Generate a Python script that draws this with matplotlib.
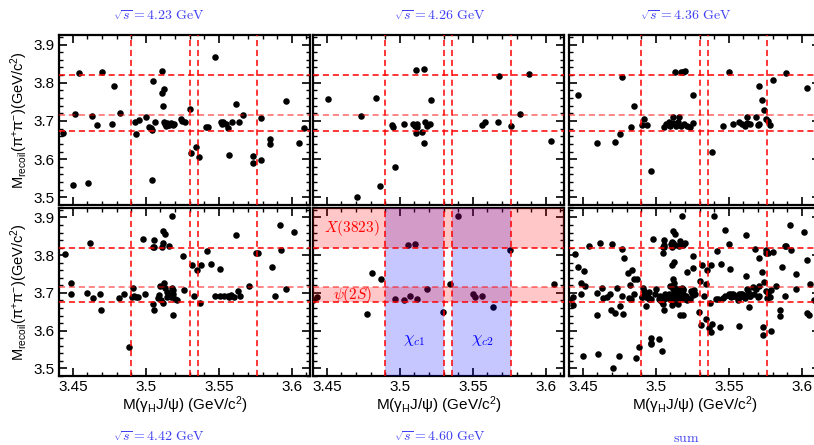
import matplotlib
matplotlib.use('Agg')
import matplotlib.pyplot as plt
from matplotlib.ticker import MultipleLocator

plt.rcParams['font.family'] = ['Liberation Sans', 'DejaVu Sans']
plt.rcParams['mathtext.fontset'] = 'custom'
plt.rcParams['mathtext.rm'] = 'Liberation Sans'
plt.rcParams['mathtext.it'] = 'Liberation Sans:italic'
plt.rcParams['mathtext.bf'] = 'Liberation Sans:bold'

# M(gamma_H J/psi) and M_recoil(pi+ pi-) for each energy point (GeV)
x_423 = [3.4429, 3.4500, 3.4514, 3.4539, 3.4605, 3.4632, 3.4664, 3.4699, 3.4767, 3.4779,
         3.4826, 3.4927, 3.4934, 3.4952, 3.5002, 3.5021, 3.5034, 3.5039, 3.5041, 3.5048,
         3.5066, 3.5112, 3.5114, 3.5123, 3.5119, 3.5126, 3.5137, 3.5148, 3.5160, 3.5171,
         3.5185, 3.5196, 3.5132, 3.5155, 3.5240, 3.5251, 3.5267, 3.5301, 3.5310, 3.5342,
         3.5361, 3.5409, 3.5427, 3.5477, 3.5514, 3.5521, 3.5532, 3.5546, 3.5564, 3.5571,
         3.5589, 3.5621, 3.5637, 3.5667, 3.5735, 3.5735, 3.5792, 3.5788, 3.5852, 3.5852,
         3.5959, 3.6048, 3.6084]
y_423 = [3.669, 3.533, 3.718, 3.825, 3.538, 3.714, 3.689, 3.829, 3.693, 3.792,
         3.721, 3.698, 3.665, 3.703, 3.710, 3.684, 3.681, 3.676, 3.545, 3.805,
         3.696, 3.832, 3.773, 3.783, 3.738, 3.696, 3.687, 3.694, 3.689, 3.694,
         3.689, 3.692, 3.692, 3.690, 3.705, 3.701, 3.696, 3.731, 3.616, 3.632,
         3.606, 3.685, 3.684, 3.868, 3.696, 3.692, 3.696, 3.692, 3.681, 3.612,
         3.696, 3.745, 3.696, 3.716, 3.609, 3.589, 3.707, 3.598, 3.654, 3.639,
         3.751, 3.641, 3.682]

x_426 = [3.4507, 3.4705, 3.4735, 3.4838, 3.4865, 3.4943, 3.4950, 3.4966, 3.5030, 3.5091,
         3.5105, 3.5116, 3.5121, 3.5114, 3.5114, 3.5167, 3.5155, 3.5169, 3.5173, 3.5187,
         3.5205, 3.5217, 3.5564, 3.5584, 3.5676, 3.5683, 3.5765, 3.5824, 3.5884, 3.6037]
y_426 = [3.757, 3.501, 3.713, 3.760, 3.529, 3.689, 3.683, 3.580, 3.691, 3.692,
         3.687, 3.692, 3.685, 3.668, 3.834, 3.837, 3.670, 3.641, 3.698, 3.688,
         3.692, 3.755, 3.689, 3.696, 3.698, 3.817, 3.687, 3.718, 3.824, 3.647]

x_436 = [3.4470, 3.4600, 3.4717, 3.4753, 3.4767, 3.4833, 3.4849, 3.4902, 3.4916, 3.4941,
         3.4970, 3.5057, 3.5071, 3.5089, 3.5100, 3.5116, 3.5121, 3.5139, 3.5151, 3.5162,
         3.5174, 3.5196, 3.5215, 3.5237, 3.5253, 3.5130, 3.5174, 3.5185, 3.5201, 3.5253,
         3.5384, 3.5457, 3.5500, 3.5527, 3.5573, 3.5591, 3.5614, 3.5623, 3.5626, 3.5642,
         3.5687, 3.5699, 3.5710, 3.5744, 3.5756, 3.5772, 3.5779, 3.5705, 3.5728, 3.5801,
         3.5893, 3.6037, 3.6103]
y_436 = [3.768, 3.641, 3.646, 3.665, 3.816, 3.685, 3.738, 3.689, 3.705, 3.689,
         3.568, 3.683, 3.692, 3.696, 3.687, 3.710, 3.694, 3.687, 3.698, 3.710,
         3.687, 3.692, 3.687, 3.685, 3.694, 3.828, 3.827, 3.828, 3.831, 3.767,
         3.618, 3.686, 3.829, 3.692, 3.696, 3.692, 3.687, 3.710, 3.694, 3.692,
         3.710, 3.689, 3.692, 3.729, 3.704, 3.700, 3.689, 3.792, 3.755, 3.808,
         3.825, 3.786, 3.824]

x_442 = [3.4447, 3.4484, 3.4484, 3.4596, 3.4619, 3.4635, 3.4685, 3.4696, 3.4813, 3.4847,
         3.4888, 3.4902, 3.4913, 3.4920, 3.4932, 3.4943, 3.4984, 3.4995, 3.5046, 3.5053,
         3.5059, 3.5048, 3.5057, 3.5080, 3.5091, 3.5103, 3.5098, 3.5126, 3.5132, 3.5121,
         3.5144, 3.5148, 3.5160, 3.5171, 3.5176, 3.5183, 3.5189, 3.5199, 3.5212, 3.5110,
         3.5116, 3.5160, 3.5121, 3.5128, 3.5176, 3.5183, 3.5263, 3.5258, 3.5315, 3.5331,
         3.5354, 3.5377, 3.5368, 3.5418, 3.5445, 3.5477, 3.5505, 3.5509, 3.5537, 3.5560,
         3.5571, 3.5582, 3.5605, 3.5635, 3.5646, 3.5619, 3.5708, 3.5753, 3.5767, 3.5868,
         3.5884, 3.5920, 3.5925, 3.5959, 3.6016]
y_442 = [3.804, 3.726, 3.696, 3.700, 3.832, 3.687, 3.696, 3.656, 3.687, 3.696,
         3.557, 3.689, 3.714, 3.691, 3.689, 3.688, 3.844, 3.696, 3.670, 3.841,
         3.823, 3.822, 3.656, 3.687, 3.694, 3.682, 3.718, 3.727, 3.713, 3.674,
         3.703, 3.689, 3.698, 3.689, 3.714, 3.709, 3.698, 3.685, 3.682, 3.822,
         3.832, 3.824, 3.863, 3.857, 3.905, 3.641, 3.707, 3.798, 3.773, 3.691,
         3.762, 3.775, 3.674, 3.810, 3.776, 3.691, 3.763, 3.691, 3.691, 3.691,
         3.689, 3.695, 3.689, 3.705, 3.691, 3.853, 3.719, 3.806, 3.807, 3.770,
         3.692, 3.879, 3.815, 3.711, 3.861]

x_460 = [3.4405, 3.4429, 3.4776, 3.4810, 3.4874, 3.4970, 3.5030, 3.5071, 3.5121, 3.5183,
         3.5057, 3.5103, 3.5299, 3.5342, 3.5400, 3.5502, 3.5514, 3.5564, 3.5639, 3.5753,
         3.6059]
y_460 = [3.682, 3.688, 3.645, 3.753, 3.736, 3.683, 3.681, 3.691, 3.684, 3.711,
         3.826, 3.830, 3.649, 3.723, 3.904, 3.698, 3.689, 3.692, 3.664, 3.813,
         3.724]

# events seen only in the summed panel
x_other = [3.4968, 3.5025, 3.4751, 3.5379, 3.5443]
y_other = [3.564, 3.577, 3.533, 3.597, 3.610]

x_sum = x_423 + x_426 + x_436 + x_442 + x_460 + x_other
y_sum = y_423 + y_426 + y_436 + y_442 + y_460 + y_other

panel_x = [x_423, x_426, x_436, x_442, x_460, x_sum]
panel_y = [y_423, y_426, y_436, y_442, y_460, y_sum]
titles = [r'$\sqrt{s} = 4.23\ \mathrm{GeV}$', r'$\sqrt{s} = 4.26\ \mathrm{GeV}$',
          r'$\sqrt{s} = 4.36\ \mathrm{GeV}$', r'$\sqrt{s} = 4.42\ \mathrm{GeV}$',
          r'$\sqrt{s} = 4.60\ \mathrm{GeV}$', r'$\mathrm{sum}$']

# signal windows
cut_y = [3.82, 3.715, 3.675]
cut_x = [3.49, 3.53, 3.536, 3.576]
chic1_win = (3.49, 3.53)
chic2_win = (3.536, 3.576)
psi2s_win = (3.675, 3.715)
x3823_win = (3.82, 3.925)

xticks = [3.45, 3.5, 3.55, 3.6]
xtick_labels = ['3.45', '3.5', '3.55', '3.6']
yticks = [3.5, 3.6, 3.7, 3.8, 3.9]
ytick_labels = ['3.5', '3.6', '3.7', '3.8', '3.9']

W, H = 814, 445
fig = plt.figure(figsize=(W / 100, H / 100), dpi=100)

col_left = [59, 313, 569]
row_top = [35, 208]
row_h = [170, 168]
pw = 251
title_pos = [(159, 16), (440, 16), (686, 16), (159, 437), (440, 437), (686, 438)]

tcol = (0.25, 0.25, 0.95)
myfontsize = 11

for i in range(6):
    r, c = divmod(i, 3)
    ax = fig.add_axes([col_left[c] / W, 1 - (row_top[r] + row_h[r]) / H, pw / W, row_h[r] / H])
    ax.plot(panel_x[i], panel_y[i], 'o', color='black', ms=4.7, mec='none', zorder=3)

    if i == 4:
        ax.axvspan(*chic1_win, color='blue', alpha=0.22, lw=0, zorder=4)
        ax.axvspan(*chic2_win, color='blue', alpha=0.22, lw=0, zorder=4)
        ax.axhspan(*psi2s_win, color='red', alpha=0.22, lw=0, zorder=4)
        ax.axhspan(*x3823_win, color='red', alpha=0.22, lw=0, zorder=4)
        ax.text(3.4674, 3.871, r'$X(3823)$', color='red', fontsize=11,
                math_fontfamily='cm', ha='center', va='center', zorder=6)
        ax.text(3.4674, 3.695, r'$\psi(2S)$', color='red', fontsize=11,
                math_fontfamily='cm', ha='center', va='center', zorder=6)
        ax.text(3.5100, 3.573, r'$\chi_{c1}$', color='blue', fontsize=12,
                math_fontfamily='cm', ha='center', va='center', zorder=6)
        ax.text(3.5565, 3.573, r'$\chi_{c2}$', color='blue', fontsize=12,
                math_fontfamily='cm', ha='center', va='center', zorder=6)

    for k, hy in enumerate(cut_y):
        ax.axhline(hy, color='red', ls=(0, (4, 2.5)), lw=1.1,
                   alpha=0.6 if k == 1 else 1.0, zorder=5)
    for vx in cut_x:
        ax.axvline(vx, color='red', ls=(0, (4, 2.5)), lw=1.1, zorder=5)

    ax.set_xlim(3.4405, 3.6125)
    ax.set_ylim(3.48, 3.925)
    ax.set_xticks(xticks)
    ax.set_yticks(yticks)
    ax.xaxis.set_minor_locator(MultipleLocator(0.01))
    ax.yaxis.set_minor_locator(MultipleLocator(0.02))
    ax.tick_params(which='both', direction='in', top=True, right=True, labelsize=myfontsize)
    ax.tick_params(which='major', length=6, width=1.2, pad=3)
    ax.tick_params(which='minor', length=3, width=1.0)
    for sp in ax.spines.values():
        sp.set_linewidth(1.6)

    if r == 1:
        ax.set_xticklabels(xtick_labels)
        ax.set_xlabel(r'M(γ$_{\rm H}$J/ψ) (GeV/c$^{2}$)', fontsize=11, labelpad=0)
    else:
        ax.set_xticklabels([])
    if c == 0:
        ax.set_yticklabels(ytick_labels)
        ax.set_ylabel(r'M$_{\rm recoil}$(π$^{+}$π$^{-}$)(GeV/c$^{2}$)', fontsize=10.5,
                      labelpad=3)
    else:
        ax.set_yticklabels([])

    tx, ty = title_pos[i]
    fig.text(tx / W, 1 - ty / H, titles[i], color=tcol, fontsize=10,
             math_fontfamily='cm', ha='center', va='center')

fig.savefig('out.png', dpi=100)
